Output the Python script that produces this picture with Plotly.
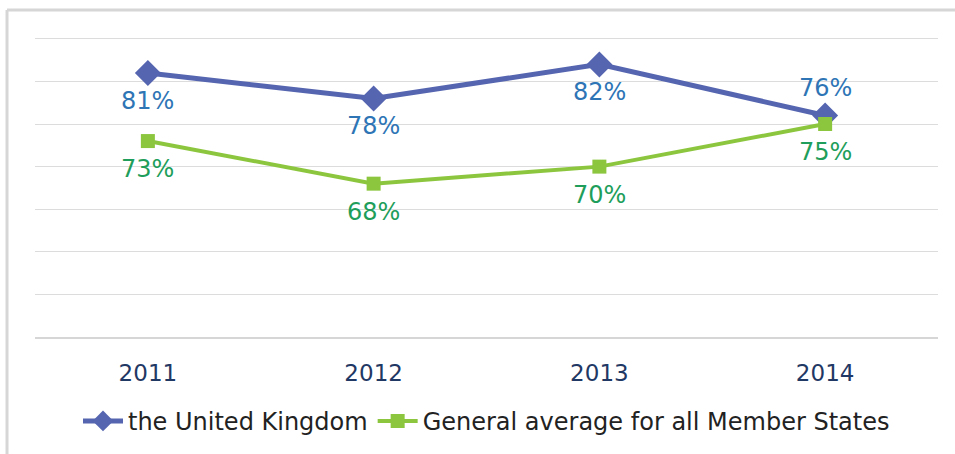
import plotly.graph_objects as go

years = ["2011", "2012", "2013", "2014"]
uk_values = [81, 78, 82, 76]
eu_values = [73, 68, 70, 75]
uk_name = "the United Kingdom"
eu_name = "General average for all Member States"
# label placement relative to each point: -1 below, +1 above
uk_sides = [-1, -1, -1, 1]
eu_sides = [-1, -1, -1, -1]

FONT = "DejaVu Sans"
UK_COLOR = "#5565B0"
EU_COLOR = "#8CC63F"

fig = go.Figure()
fig.add_trace(go.Scatter(
    x=years, y=uk_values, name=uk_name,
    mode="lines+markers",
    line=dict(color=UK_COLOR, width=5),
    marker=dict(symbol="diamond", size=20, color=UK_COLOR),
))
fig.add_trace(go.Scatter(
    x=years, y=eu_values, name=eu_name,
    mode="lines+markers",
    line=dict(color=EU_COLOR, width=4),
    marker=dict(symbol="square", size=14, color=EU_COLOR),
))

# value labels (x given as category index)
for vals, sides, col in ((uk_values, uk_sides, "#2E75B6"), (eu_values, eu_sides, "#1E9E5A")):
    for i, (v, s) in enumerate(zip(vals, sides)):
        fig.add_annotation(x=i, y=v, xref="x", yref="y", text=f"{v}%", showarrow=False,
                           yshift=28 * s, xanchor="center", yanchor="middle",
                           font=dict(family=FONT, size=24, color=col))

# chart frame (top and left edges)
fig.add_shape(type="line", xref="paper", yref="paper",
              x0=-0.031, x1=1.1, y0=1.083, y1=1.083,
              line=dict(color="#D6D6D6", width=3))
fig.add_shape(type="line", xref="paper", yref="paper",
              x0=-0.031, x1=-0.031, y0=1.083, y1=-0.5,
              line=dict(color="#D6D6D6", width=3))

fig.update_layout(
    width=955, height=454,
    margin=dict(l=35, r=17, t=35, b=116),
    paper_bgcolor="white", plot_bgcolor="white",
    font=dict(family=FONT),
    showlegend=True,
    legend=dict(orientation="h", x=0.5, xanchor="center", y=-0.275, yanchor="middle",
                font=dict(family=FONT, size=24, color="#222222"),
                itemwidth=40, tracegroupgap=0),
    xaxis=dict(type="category", range=[-0.5, 3.5], showgrid=False,
               showline=True, linecolor="#D6D6D6", linewidth=2,
               ticks="", ticklabelstandoff=14,
               tickfont=dict(family=FONT, size=23, color="#1F3864")),
    yaxis=dict(range=[50, 85.45], tick0=50, dtick=5, showgrid=True, gridcolor="#DCDCDC",
               gridwidth=1, showticklabels=False, zeroline=False, ticks=""),
)

fig.write_html("out.html")
